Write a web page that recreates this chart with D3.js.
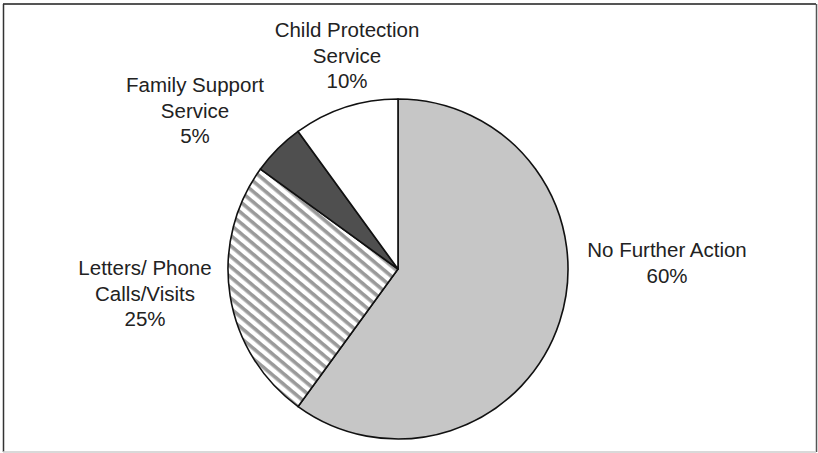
<!DOCTYPE html>
<html><head><meta charset="utf-8">
<script src="https://cdn.jsdelivr.net/npm/d3@7"></script>
<style>html,body{margin:0;padding:0;background:#fff;}svg{display:block;}</style>
</head><body>
<svg id="c" width="818" height="453"></svg>
<script>
const categories = ["No Further Action", "Letters/ Phone Calls/Visits", "Family Support Service", "Child Protection Service"];
const values = [60, 25, 5, 10];
const labelLines = [["No Further Action", "60%"], ["Letters/ Phone", "Calls/Visits", "25%"], ["Family Support", "Service", "5%"], ["Child Protection", "Service", "10%"]];
const labelPos = [[667, 257], [145, 275], [195, 92], [347, 37]];
const fills = ["#c6c6c6", "url(#hatch)", "#4f4f4f", "#ffffff"];

const svg = d3.select("#c");
const defs = svg.append("defs");
const pat = defs.append("pattern").attr("id", "hatch").attr("patternUnits", "userSpaceOnUse")
  .attr("width", 8).attr("height", 8).attr("patternTransform", "rotate(40)");
pat.append("rect").attr("width", 8).attr("height", 8).attr("fill", "#fff");
pat.append("rect").attr("y", 0).attr("width", 8).attr("height", 3.6).attr("fill", "#9a9a9a");

// frame
svg.append("line").attr("x1", 3).attr("x2", 816).attr("y1", 4).attr("y2", 4).attr("stroke", "#555").attr("stroke-width", 2);
svg.append("line").attr("x1", 3.5).attr("x2", 3.5).attr("y1", 4).attr("y2", 452).attr("stroke", "#333").attr("stroke-width", 1.5);
svg.append("line").attr("x1", 816.5).attr("x2", 816.5).attr("y1", 4).attr("y2", 452).attr("stroke", "#555").attr("stroke-width", 1.5);
svg.append("line").attr("x1", 3).attr("x2", 816).attr("y1", 452).attr("y2", 452).attr("stroke", "#ccc").attr("stroke-width", 1.5);

const cx = 398, cy = 269, r = 170;
const pie = d3.pie().sort(null).value(d => d)(values);
const arc = d3.arc().innerRadius(0).outerRadius(r);
const g = svg.append("g").attr("transform", `translate(${cx},${cy})`);
g.selectAll("path").data(pie).join("path")
  .attr("d", arc).attr("fill", (d, i) => fills[i])
  .attr("stroke", "#111").attr("stroke-width", 1.6).attr("stroke-linejoin", "round");

const lh = 25.5;
labelLines.forEach((lines, i) => {
  const t = svg.append("text").attr("text-anchor", "middle")
    .attr("font-family", "Liberation Sans, Arial, sans-serif").attr("font-size", 20.5).attr("fill", "#222");
  lines.forEach((s, j) => {
    t.append("tspan").attr("x", labelPos[i][0]).attr("y", labelPos[i][1] + j * lh).text(s);
  });
});
</script>
</body></html>
